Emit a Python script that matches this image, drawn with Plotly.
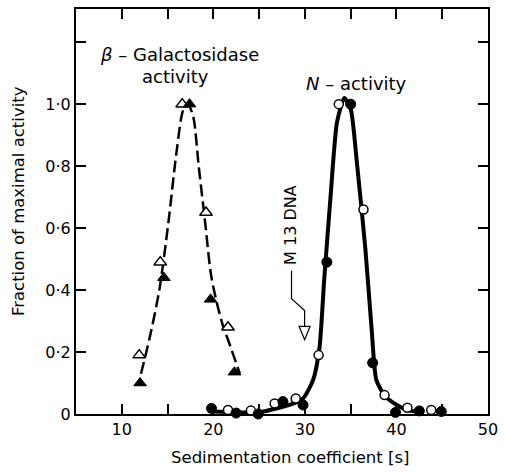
import plotly.graph_objects as go

# beta-galactosidase activity (triangles)
gal_open_x = [11.9, 14.2, 16.6, 19.2, 21.6]
gal_open_y = [0.19, 0.49, 1.00, 0.65, 0.28]
gal_filled_x = [12.0, 14.6, 17.4, 19.7, 22.3]
gal_filled_y = [0.10, 0.44, 1.00, 0.37, 0.135]
gal_curve_x = [12.1, 13.0, 14.1, 15.1, 16.0, 16.7, 17.2, 17.8, 18.4, 19.1, 19.8, 20.9, 21.9, 22.9]
gal_curve_y = [0.13, 0.24, 0.40, 0.62, 0.85, 0.98, 1.00, 0.96, 0.80, 0.62, 0.44, 0.30, 0.215, 0.13]

# N-activity (circles)
n_open_x = [21.6, 24.1, 26.7, 29.0, 31.5, 33.7, 36.4, 38.7, 41.2, 43.8]
n_open_y = [0.013, 0.011, 0.034, 0.05, 0.19, 1.00, 0.66, 0.061, 0.02, 0.013]
n_filled_x = [19.8, 22.5, 24.9, 27.6, 29.8, 32.4, 35.0, 37.4, 39.9, 42.5, 44.9]
n_filled_y = [0.018, 0.003, 0.0, 0.04, 0.029, 0.49, 1.00, 0.165, 0.005, 0.01, 0.008]
n_curve_x = [20.0, 22.0, 24.0, 25.5, 26.9, 28.4, 29.8, 30.9, 31.6, 32.1, 32.8, 33.5, 34.3,
             35.0, 35.7, 36.6, 37.3, 37.8, 38.7, 40.0, 41.2, 42.6]
n_curve_y = [0.008, 0.006, 0.005, 0.008, 0.018, 0.03, 0.05, 0.11, 0.215, 0.43, 0.70, 0.94, 1.02,
             0.985, 0.805, 0.535, 0.27, 0.11, 0.06, 0.03, 0.013, 0.005]

# M13 DNA marker arrow path (x, y) and arrowhead
m13_path_x = [28.54, 28.54, 29.97, 29.97]
m13_path_y = [0.462, 0.372, 0.334, 0.283]
m13_tip_y = 0.240

x_ticks = [5, 10, 15, 20, 25, 30, 35, 40, 45, 50]
x_ticktext = ["", "10", "", "20", "", "30", "", "40", "", "50"]
y_ticks = [0, 0.2, 0.4, 0.6, 0.8, 1.0, 1.2]
y_ticktext = ["0", "0·2", "0·4", "0·6", "0·8", "1·0", ""]

FONT = "DejaVu Sans"

fig = go.Figure()

fig.add_trace(go.Scatter(x=gal_curve_x, y=gal_curve_y, mode="lines",
                         line=dict(color="black", width=2.5, dash="12px,5px", shape="spline", smoothing=0.8),
                         hoverinfo="skip"))
fig.add_trace(go.Scatter(x=n_curve_x, y=n_curve_y, mode="lines",
                         line=dict(color="black", width=4, shape="spline", smoothing=0.6),
                         hoverinfo="skip"))

fig.add_trace(go.Scatter(x=gal_open_x, y=gal_open_y, mode="markers", cliponaxis=False,
                         marker=dict(symbol="triangle-up", size=11, color="white",
                                     line=dict(color="black", width=1.5))))
fig.add_trace(go.Scatter(x=gal_filled_x, y=gal_filled_y, mode="markers", cliponaxis=False,
                         marker=dict(symbol="triangle-up", size=11, color="black",
                                     line=dict(color="black", width=1))))
fig.add_trace(go.Scatter(x=n_open_x, y=n_open_y, mode="markers", cliponaxis=False,
                         marker=dict(symbol="circle", size=9, color="white",
                                     line=dict(color="black", width=1.5))))
fig.add_trace(go.Scatter(x=n_filled_x, y=n_filled_y, mode="markers", cliponaxis=False,
                         marker=dict(symbol="circle", size=10, color="black",
                                     line=dict(color="black", width=1))))

# M13 DNA pointer line
fig.add_trace(go.Scatter(x=m13_path_x, y=m13_path_y, mode="lines",
                         line=dict(color="black", width=1.2), hoverinfo="skip"))
# open arrowhead
half_w = 0.6
fig.add_shape(type="path",
              path=f"M {m13_path_x[-1]-half_w},{m13_path_y[-1]} L {m13_path_x[-1]+half_w},{m13_path_y[-1]} "
                   f"L {m13_path_x[-1]},{m13_tip_y} Z",
              xref="x", yref="y", fillcolor="white", line=dict(color="black", width=1.2))

fig.add_annotation(x=7.4, y=1.159, xref="x", yref="y", xanchor="left", yanchor="middle",
                   text="<i>β</i> – Galactosidase", showarrow=False,
                   font=dict(family=FONT, size=18, color="black"))
fig.add_annotation(x=12.0, y=1.088, xref="x", yref="y", xanchor="left", yanchor="middle",
                   text="activity", showarrow=False,
                   font=dict(family=FONT, size=18, color="black"))
fig.add_annotation(x=29.9, y=1.066, xref="x", yref="y", xanchor="left", yanchor="middle",
                   text="<i>N</i> – activity", showarrow=False,
                   font=dict(family=FONT, size=18, color="black"))
fig.add_annotation(x=28.4, y=0.611, xref="x", yref="y", xanchor="center", yanchor="middle",
                   text="M 13 DNA", textangle=-90, showarrow=False,
                   font=dict(family=FONT, size=16, color="black"))

fig.add_annotation(x=-0.138, y=0.526, xref="paper", yref="paper", xanchor="center", yanchor="middle",
                   text="Fraction of maximal activity", textangle=-90, showarrow=False,
                   font=dict(family=FONT, size=16.5, color="black"))
fig.add_annotation(x=0.521, y=-0.108, xref="paper", yref="paper", xanchor="center", yanchor="middle",
                   text="Sedimentation coefficient [s]", showarrow=False,
                   font=dict(family=FONT, size=16.5, color="black"))

axis_common = dict(showgrid=False, zeroline=False, showline=True, linecolor="black", linewidth=2,
                   mirror="ticks", ticks="inside", ticklen=10, tickwidth=1.5, tickcolor="black",
                   ticklabeloverflow="allow",
                   tickfont=dict(family=FONT, size=16, color="black"))

fig.update_layout(
    width=505, height=473,
    margin=dict(l=76, r=9, t=7, b=59),
    paper_bgcolor="white", plot_bgcolor="white",
    showlegend=False,
    xaxis=dict(range=[5, 50], tickmode="array", tickvals=x_ticks, ticktext=x_ticktext, **axis_common),
    yaxis=dict(range=[0, 1.307], tickmode="array", tickvals=y_ticks, ticktext=y_ticktext, **axis_common),
)

fig.write_html("out.html")
